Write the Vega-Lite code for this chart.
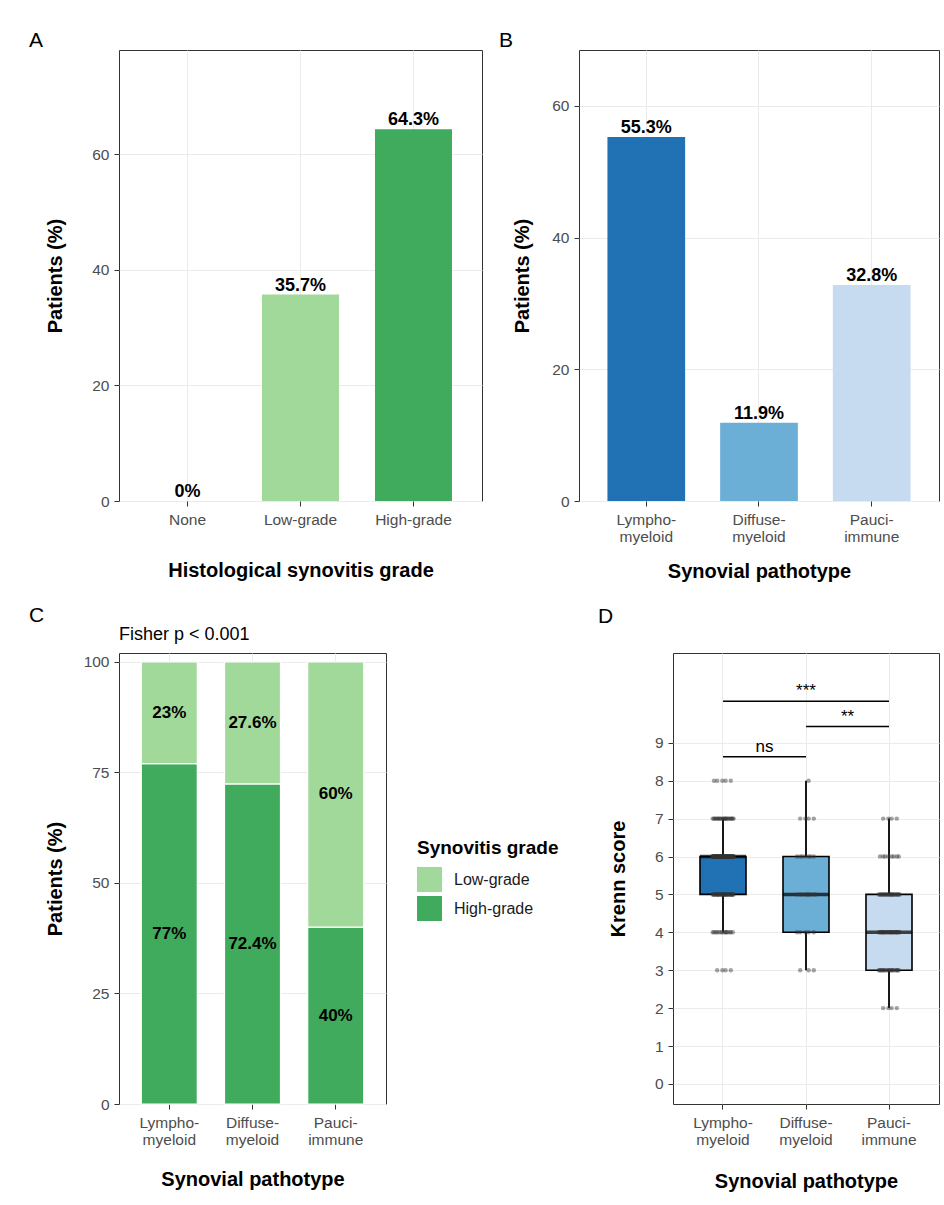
{
  "$schema": "https://vega.github.io/schema/vega-lite/v6.json",
  "background": "white",
  "padding": {"left": 28, "top": 29, "right": 5, "bottom": 5},
  "autosize": {"type": "pad"},
  "config": {
    "font": "Liberation Sans",
    "view": {"stroke": "#333333", "strokeWidth": 1},
    "axis": {"grid": true, "gridColor": "#ebebeb", "gridWidth": 1, "domain": false, "tickColor": "#333333", "tickSize": 5, "tickWidth": 1, "labelColor": "#4d4d4d", "labelFontSize": 15.5, "labelFont": "Liberation Sans", "titleFont": "Liberation Sans", "titleFontSize": 20, "titleFontWeight": "bold", "titleColor": "black"},
    "axisX": {"labelAngle": 0, "labelPadding": 6, "labelLineHeight": 17},
    "axisY": {"labelPadding": 5},
    "title": {"font": "Liberation Sans", "fontSize": 21, "fontWeight": "normal", "color": "black", "anchor": "start", "frame": "group"},
    "legend": {"padding": 0}
  },
  "datasets": {
    "grade": [{"grade": "None", "pct": 0}, {"grade": "Low-grade", "pct": 35.7}, {"grade": "High-grade", "pct": 64.3}],
    "pathotype": [{"p": "L", "pct": 55.3}, {"p": "D", "pct": 11.9}, {"p": "P", "pct": 32.8}],
    "crosstab": [
      {"p": "L", "grade": "High-grade", "pct": 77}, {"p": "L", "grade": "Low-grade", "pct": 23},
      {"p": "D", "grade": "High-grade", "pct": 72.4}, {"p": "D", "grade": "Low-grade", "pct": 27.6},
      {"p": "P", "grade": "High-grade", "pct": 40}, {"p": "P", "grade": "Low-grade", "pct": 60}
    ],
    "brackets": [
      {"p": "L", "p2": "P", "k": 10.1, "label": "***"},
      {"p": "D", "p2": "P", "k": 9.43, "label": "**"},
      {"p": "L", "p2": "D", "k": 8.63, "label": "ns"}
    ],
    "krenn": [
      {"p":"L","k":3},{"p":"L","k":3},{"p":"L","k":3},{"p":"L","k":3},
      {"p":"L","k":4},{"p":"L","k":4},{"p":"L","k":4},{"p":"L","k":4},{"p":"L","k":4},{"p":"L","k":4},{"p":"L","k":4},{"p":"L","k":4},{"p":"L","k":4},{"p":"L","k":4},
      {"p":"L","k":4},{"p":"L","k":4},{"p":"L","k":4},{"p":"L","k":4},
      {"p":"L","k":5},{"p":"L","k":5},{"p":"L","k":5},{"p":"L","k":5},{"p":"L","k":5},{"p":"L","k":5},{"p":"L","k":5},{"p":"L","k":5},{"p":"L","k":5},{"p":"L","k":5},
      {"p":"L","k":5},{"p":"L","k":5},{"p":"L","k":5},{"p":"L","k":5},{"p":"L","k":5},{"p":"L","k":5},{"p":"L","k":5},{"p":"L","k":5},{"p":"L","k":5},{"p":"L","k":5},
      {"p":"L","k":5},{"p":"L","k":5},{"p":"L","k":5},{"p":"L","k":5},{"p":"L","k":5},{"p":"L","k":5},{"p":"L","k":5},{"p":"L","k":5},{"p":"L","k":5},{"p":"L","k":5},
      {"p":"L","k":6},{"p":"L","k":6},{"p":"L","k":6},{"p":"L","k":6},{"p":"L","k":6},{"p":"L","k":6},{"p":"L","k":6},{"p":"L","k":6},{"p":"L","k":6},{"p":"L","k":6},
      {"p":"L","k":6},{"p":"L","k":6},{"p":"L","k":6},{"p":"L","k":6},{"p":"L","k":6},{"p":"L","k":6},{"p":"L","k":6},{"p":"L","k":6},{"p":"L","k":6},{"p":"L","k":6},
      {"p":"L","k":6},{"p":"L","k":6},{"p":"L","k":6},{"p":"L","k":6},{"p":"L","k":6},{"p":"L","k":6},{"p":"L","k":6},{"p":"L","k":6},{"p":"L","k":6},{"p":"L","k":6},
      {"p":"L","k":6},{"p":"L","k":6},{"p":"L","k":6},{"p":"L","k":6},{"p":"L","k":6},{"p":"L","k":6},{"p":"L","k":6},{"p":"L","k":6},{"p":"L","k":6},{"p":"L","k":6},
      {"p":"L","k":6},{"p":"L","k":6},{"p":"L","k":6},{"p":"L","k":6},{"p":"L","k":6},{"p":"L","k":6},{"p":"L","k":6},{"p":"L","k":6},{"p":"L","k":6},{"p":"L","k":6},
      {"p":"L","k":6},{"p":"L","k":6},{"p":"L","k":6},{"p":"L","k":6},{"p":"L","k":6},{"p":"L","k":6},{"p":"L","k":6},{"p":"L","k":6},{"p":"L","k":6},{"p":"L","k":6},
      {"p":"L","k":7},{"p":"L","k":7},{"p":"L","k":7},{"p":"L","k":7},{"p":"L","k":7},{"p":"L","k":7},{"p":"L","k":7},{"p":"L","k":7},{"p":"L","k":7},{"p":"L","k":7},
      {"p":"L","k":7},{"p":"L","k":7},{"p":"L","k":7},{"p":"L","k":7},{"p":"L","k":7},{"p":"L","k":7},{"p":"L","k":7},{"p":"L","k":7},{"p":"L","k":7},{"p":"L","k":7},
      {"p":"L","k":7},{"p":"L","k":7},
      {"p":"L","k":8},{"p":"L","k":8},{"p":"L","k":8},{"p":"L","k":8},{"p":"L","k":8},
      {"p":"D","k":3},{"p":"D","k":3},{"p":"D","k":3},
      {"p":"D","k":4},{"p":"D","k":4},{"p":"D","k":4},{"p":"D","k":4},{"p":"D","k":4},
      {"p":"D","k":5},{"p":"D","k":5},{"p":"D","k":5},{"p":"D","k":5},{"p":"D","k":5},{"p":"D","k":5},{"p":"D","k":5},{"p":"D","k":5},{"p":"D","k":5},
      {"p":"D","k":6},{"p":"D","k":6},{"p":"D","k":6},{"p":"D","k":6},{"p":"D","k":6},{"p":"D","k":6},{"p":"D","k":6},
      {"p":"D","k":7},{"p":"D","k":7},{"p":"D","k":7},{"p":"D","k":7},
      {"p":"D","k":8},
      {"p":"P","k":2},{"p":"P","k":2},{"p":"P","k":2},{"p":"P","k":2},
      {"p":"P","k":3},{"p":"P","k":3},{"p":"P","k":3},{"p":"P","k":3},{"p":"P","k":3},{"p":"P","k":3},{"p":"P","k":3},{"p":"P","k":3},{"p":"P","k":3},{"p":"P","k":3},
      {"p":"P","k":3},{"p":"P","k":3},{"p":"P","k":3},{"p":"P","k":3},{"p":"P","k":3},{"p":"P","k":3},{"p":"P","k":3},{"p":"P","k":3},
      {"p":"P","k":4},{"p":"P","k":4},{"p":"P","k":4},{"p":"P","k":4},{"p":"P","k":4},{"p":"P","k":4},{"p":"P","k":4},{"p":"P","k":4},{"p":"P","k":4},{"p":"P","k":4},
      {"p":"P","k":4},{"p":"P","k":4},{"p":"P","k":4},{"p":"P","k":4},{"p":"P","k":4},{"p":"P","k":4},{"p":"P","k":4},{"p":"P","k":4},{"p":"P","k":4},{"p":"P","k":4},
      {"p":"P","k":4},{"p":"P","k":4},{"p":"P","k":4},{"p":"P","k":4},
      {"p":"P","k":5},{"p":"P","k":5},{"p":"P","k":5},{"p":"P","k":5},{"p":"P","k":5},{"p":"P","k":5},{"p":"P","k":5},{"p":"P","k":5},{"p":"P","k":5},{"p":"P","k":5},
      {"p":"P","k":5},{"p":"P","k":5},{"p":"P","k":5},{"p":"P","k":5},{"p":"P","k":5},{"p":"P","k":5},{"p":"P","k":5},{"p":"P","k":5},{"p":"P","k":5},{"p":"P","k":5},
      {"p":"P","k":5},{"p":"P","k":5},
      {"p":"P","k":6},{"p":"P","k":6},{"p":"P","k":6},{"p":"P","k":6},{"p":"P","k":6},{"p":"P","k":6},{"p":"P","k":6},{"p":"P","k":6},
      {"p":"P","k":7},{"p":"P","k":7},{"p":"P","k":7},{"p":"P","k":7}
    ]
  },
  "resolve": {"scale": {"color": "independent"}},
  "spacing": 22,
  "vconcat": [
    {
      "bounds": "flush",
      "spacing": 97,
      "resolve": {"scale": {"color": "independent"}},
      "hconcat": [
        {
          "width": 363, "height": 451,
          "title": {"text": "A", "dx": -90, "offset": -1},
          "data": {"name": "grade"},
          "transform": [{"calculate": "datum.pct + '%'", "as": "lab"}],
          "encoding": {
            "x": {"field": "grade", "type": "nominal", "sort": ["None", "Low-grade", "High-grade"], "title": "Histological synovitis grade",
                  "scale": {"type": "band", "paddingInner": 0.319, "paddingOuter": 0.266},
                  "axis": {"bandPosition": 0.5, "titlePadding": 33}},
            "y": {"field": "pct", "type": "quantitative", "title": "Patients (%)",
                  "scale": {"domain": [0, 78], "nice": false},
                  "axis": {"values": [0, 20, 40, 60], "titlePadding": 26}}
          },
          "layer": [
            {"mark": {"type": "bar", "width": 77},
             "encoding": {"color": {"field": "grade", "type": "nominal", "scale": {"domain": ["None", "Low-grade", "High-grade"], "range": ["#e5f5e0", "#a1d99b", "#41ab5d"]}, "legend": null}}},
            {"mark": {"type": "text", "baseline": "alphabetic", "dy": -4, "fontSize": 18, "fontWeight": "bold", "color": "black"},
             "encoding": {"text": {"field": "lab"}}}
          ]
        },
        {
          "width": 360, "height": 451,
          "title": {"text": "B", "dx": -80, "offset": -1},
          "data": {"name": "pathotype"},
          "transform": [{"calculate": "datum.pct + '%'", "as": "lab"}],
          "encoding": {
            "x": {"field": "p", "type": "nominal", "sort": ["L", "D", "P"], "title": "Synovial pathotype",
                  "scale": {"type": "band", "paddingInner": 0.31, "paddingOuter": 0.252},
                  "axis": {"bandPosition": 0.5, "titlePadding": 17,
                           "labelExpr": "datum.value == 'L' ? ['Lympho-', 'myeloid'] : datum.value == 'D' ? ['Diffuse-', 'myeloid'] : ['Pauci-', 'immune']"}},
            "y": {"field": "pct", "type": "quantitative", "title": "Patients (%)",
                  "scale": {"domain": [0, 68.5], "nice": false},
                  "axis": {"values": [0, 20, 40, 60], "titlePadding": 19}}
          },
          "layer": [
            {"mark": {"type": "bar", "width": 77.7},
             "encoding": {"color": {"field": "p", "type": "nominal", "scale": {"domain": ["L", "D", "P"], "range": ["#2171b5", "#6baed6", "#c6dbef"]}, "legend": null}}},
            {"mark": {"type": "text", "baseline": "alphabetic", "dy": -4, "fontSize": 18, "fontWeight": "bold", "color": "black"},
             "encoding": {"text": {"field": "lab"}}}
          ]
        }
      ]
    },
    {
      "bounds": "flush",
      "spacing": 287,
      "title": {"text": "C", "dx": -90, "offset": -20},
      "resolve": {"scale": {"color": "independent"}},
      "hconcat": [
        {
          "width": 267, "height": 451,
          "title": {"text": "Fisher p < 0.001", "fontSize": 18, "offset": 9},
          "data": {"name": "crosstab"},
          "encoding": {
            "x": {"field": "p", "type": "nominal", "sort": ["L", "D", "P"], "title": "Synovial pathotype",
                  "scale": {"type": "band", "paddingInner": 0.327, "paddingOuter": 0.268},
                  "axis": {"bandPosition": 0.5, "titlePadding": 22,
                           "labelExpr": "datum.value == 'L' ? ['Lympho-', 'myeloid'] : datum.value == 'D' ? ['Diffuse-', 'myeloid'] : ['Pauci-', 'immune']"}}
          },
          "layer": [
            {"mark": {"type": "bar", "width": 56, "stroke": "white", "strokeWidth": 1.2},
             "encoding": {
               "y": {"field": "pct", "type": "quantitative", "stack": "zero", "title": "Patients (%)",
                     "scale": {"domain": [0, 102], "nice": false},
                     "axis": {"values": [0, 25, 50, 75, 100], "titlePadding": 18}},
               "color": {"field": "grade", "type": "nominal",
                         "scale": {"domain": ["Low-grade", "High-grade"], "range": ["#a1d99b", "#41ab5d"]},
                         "legend": {"title": "Synovitis grade", "orient": "none", "legendX": 298, "legendY": 186,
                                    "titleFontSize": 19, "titleFontWeight": "bold", "titleColor": "black", "titleFont": "Liberation Sans",
                                    "titlePadding": 9, "labelFontSize": 16, "labelColor": "#1a1a1a", "labelFont": "Liberation Sans",
                                    "symbolType": "square", "symbolSize": 625, "symbolStrokeWidth": 0, "symbolOpacity": 1,
                                    "rowPadding": 4, "labelOffset": 12}},
               "order": {"field": "grade", "sort": "ascending"}
             }},
            {"transform": [
               {"stack": "pct", "groupby": ["p"], "sort": [{"field": "grade", "order": "ascending"}], "as": ["y0", "y1"]},
               {"calculate": "(datum.y0 + datum.y1) / 2", "as": "ymid"},
               {"calculate": "datum.pct + '%'", "as": "lab"}
             ],
             "mark": {"type": "text", "baseline": "middle", "fontSize": 17, "fontWeight": "bold", "color": "black"},
             "encoding": {
               "y": {"field": "ymid", "type": "quantitative", "title": "Patients (%)"},
               "text": {"field": "lab"}
             }}
          ]
        },
        {
          "width": 266, "height": 451,
          "title": {"text": "D", "dx": -75, "offset": 26},
          "encoding": {
            "x": {"field": "p", "type": "nominal", "title": "Synovial pathotype",
                  "scale": {"type": "band", "domain": ["L", "D", "P"], "paddingInner": 0, "paddingOuter": 0.1024},
                  "axis": {"bandPosition": 0.5, "titlePadding": 24,
                           "labelExpr": "datum.value == 'L' ? ['Lympho-', 'myeloid'] : datum.value == 'D' ? ['Diffuse-', 'myeloid'] : ['Pauci-', 'immune']"}},
            "y": {"field": "k", "type": "quantitative", "title": "Krenn score",
                  "scale": {"domain": [-0.53, 11.37], "nice": false, "zero": false},
                  "axis": {"values": [0, 1, 2, 3, 4, 5, 6, 7, 8, 9], "titlePadding": 26}}
          },
          "layer": [
            {"data": {"name": "krenn"},
             "mark": {"type": "boxplot", "extent": 1.5, "size": 46, "outliers": false, "ticks": false,
                      "median": {"color": "black", "thickness": 3.5},
                      "box": {"stroke": "black", "strokeWidth": 1.6},
                      "rule": {"color": "black", "strokeWidth": 1.8}},
             "encoding": {"color": {"field": "p", "type": "nominal", "scale": {"domain": ["L", "D", "P"], "range": ["#2171b5", "#6baed6", "#c6dbef"]}, "legend": null}}},
            {"data": {"name": "krenn"},
             "transform": [
               {"window": [{"op": "row_number", "as": "rn"}], "groupby": ["p", "k"]},
               {"calculate": "(datum.rn * 0.618034) % 1", "as": "jit"}
             ],
             "mark": {"type": "circle", "size": 20, "color": "#333333", "opacity": 0.45},
             "encoding": {"xOffset": {"field": "jit", "type": "quantitative", "scale": {"domain": [0, 1], "range": [30.5, 52.5]}}}},
            {"data": {"name": "brackets"},
             "mark": {"type": "rule", "color": "black", "strokeWidth": 1.5},
             "encoding": {"x2": {"field": "p2"}}},
            {"data": {"name": "brackets"},
             "transform": [{"filter": "!(datum.p == 'L' && datum.p2 == 'P')"}],
             "mark": {"type": "text", "baseline": "alphabetic", "dy": -5, "fontSize": 17, "color": "black"},
             "encoding": {"x": {"field": "p", "type": "nominal", "bandPosition": 1, "title": "Synovial pathotype"}, "text": {"field": "label"}}},
            {"data": {"name": "brackets"},
             "transform": [{"filter": "datum.p == 'L' && datum.p2 == 'P'"}],
             "mark": {"type": "text", "baseline": "alphabetic", "dy": -5, "fontSize": 17, "color": "black"},
             "encoding": {"x": {"field": "p", "type": "nominal", "bandPosition": 1.5, "title": "Synovial pathotype"}, "text": {"field": "label"}}}
          ]
        }
      ]
    }
  ]
}
